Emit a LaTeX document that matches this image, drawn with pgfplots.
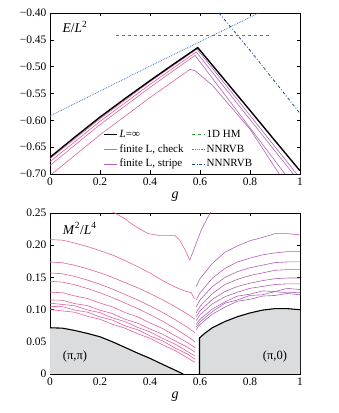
\documentclass[border=0pt]{standalone}
\usepackage{fontspec}
\setmainfont{Liberation Serif}
\usepackage{pgfplots}
\pgfplotsset{compat=1.18}
\definecolor{chk}{RGB}{228,96,160}
\definecolor{stp}{RGB}{172,100,180}
\definecolor{hmg}{RGB}{60,150,60}
\definecolor{nnb}{RGB}{70,125,195}
\definecolor{nnnb}{RGB}{30,75,140}
\definecolor{shade}{RGB}{219,220,222}
\pgfplotsset{myax/.style={
  scale only axis, width=250pt, height=161pt,
  xmin=0, xmax=1,
  xtick={0,0.2,0.4,0.6,0.8,1}, xticklabels={0,0.2,0.4,0.6,0.8,1},
  tick align=inside, major tick length=3.5pt,
  axis line style={line width=0.9pt},
  every tick/.style={black, line width=0.6pt},
  tick label style={font=\fontsize{11.5}{13}\selectfont},
  /pgf/number format/assume math mode=true,
  xlabel={\textit{g}},
  xlabel style={font=\fontsize{14}{16}\selectfont, at={(axis description cs:0.5,0)}, anchor=center, yshift=-23pt},
  clip=true,
}}
\begin{document}
\begin{tikzpicture}
\path[use as bounding box] (0,0) rectangle (338pt,413pt);
% ---------------- top panel ----------------
\begin{axis}[myax, at={(50pt,239pt)}, anchor=south west,
  ymin=-0.70, ymax=-0.40,
  ytick={-0.70,-0.65,-0.60,-0.55,-0.50,-0.45,-0.40},
  yticklabels={−0.70,−0.65,−0.60,−0.55,−0.50,−0.45,−0.40},
  legend columns=2,
  legend cell align=left,
  legend style={at={(axis cs:0.214,-0.6135)}, anchor=north west, draw=none, fill=none,
    inner sep=0pt, font=\fontsize{11}{12}\selectfont, row sep=1pt,
    nodes={inner sep=1.6pt, text height=8pt, text depth=2.5pt},
    /tikz/every even column/.append style={column sep=6pt}},
  legend image code/.code={\draw[#1] (0pt,0pt) -- (13pt,0pt);},
]
% finite L, check (left branches)
\addplot[chk, line width=0.6pt, forget plot] coordinates {(0,-0.6715)(0.2,-0.597)(0.4,-0.528)(0.588,-0.467)};
\addplot[chk, line width=0.6pt, forget plot] coordinates {(0,-0.677)(0.2,-0.602)(0.4,-0.533)(0.585,-0.4725)};
\addplot[chk, line width=0.6pt, forget plot] coordinates {(0,-0.684)(0.2,-0.608)(0.4,-0.5386)(0.58,-0.479)};
\addplot[chk, line width=0.6pt, forget plot] coordinates {(0,-0.703)(0.2,-0.627)(0.4,-0.5576)(0.56,-0.505)};
% finite L, stripe (right branches)
\addplot[stp, line width=0.6pt, forget plot] coordinates {(0.588,-0.467)(0.8,-0.5908)(1,-0.7076)};
\addplot[stp, line width=0.6pt, forget plot] coordinates {(0.585,-0.4725)(0.8,-0.5985)(1,-0.7158)};
\addplot[stp, line width=0.6pt, forget plot] coordinates {(0.58,-0.479)(0.8,-0.614)(1,-0.7368)};
\addplot[stp, line width=0.6pt, forget plot] coordinates {(0.56,-0.505)(0.58,-0.5075)(0.65,-0.535)(0.8,-0.6165)(0.917,-0.70)(1,-0.7453)};
% L = infinity
\addplot[black, line width=1.4pt, forget plot] coordinates {(0,-0.669)(0.1,-0.631)(0.2,-0.594)(0.3,-0.5595)(0.4,-0.526)(0.5,-0.4935)(0.591,-0.4644)(0.7,-0.5255)(0.8,-0.5815)(0.9,-0.638)(1,-0.694)};
% 1D HM
\addplot[hmg, line width=0.9pt, dashed, forget plot] coordinates {(0.264,-0.442)(0.883,-0.442)};
% NNRVB
\addplot[nnb, line width=0.8pt, densely dotted, forget plot] coordinates {(0,-0.592)(0.4,-0.499)(0.835,-0.40)};
% NNNRVB
\addplot[nnnb, line width=0.8pt, dash dot, forget plot] coordinates {(0.676,-0.40)(0.8,-0.4695)(1,-0.587)};
% legend
\addlegendimage{black, line width=1.4pt}\addlegendentry{\textit{L}=∞}
\addlegendimage{hmg, line width=0.9pt, dashed}\addlegendentry{1D HM}
\addlegendimage{chk, line width=0.6pt}\addlegendentry{finite L, check}
\addlegendimage{nnb, line width=0.8pt, densely dotted}\addlegendentry{NNRVB}
\addlegendimage{stp, line width=0.6pt}\addlegendentry{finite L, stripe}
\addlegendimage{nnnb, line width=0.8pt, dash dot}\addlegendentry{NNNRVB}
\node[font=\fontsize{13.5}{15}\selectfont] at (axis cs:0.1,-0.426) {\textit{E}/\textit{L}\textsuperscript{2}};
\end{axis}
% ---------------- bottom panel ----------------
\begin{axis}[myax, at={(50pt,39pt)}, anchor=south west,
  ymin=0, ymax=0.25,
  ytick={0,0.05,0.10,0.15,0.20,0.25},
  yticklabels={0,0.05,0.10,0.15,0.20,0.25},
]
% shaded regions
\addplot[fill=shade, draw=none] coordinates {(0,0)(0,0.0718)(0.05,0.0712)(0.1,0.0675)(0.15,0.063)(0.2,0.0578)(0.25,0.050)(0.3,0.0413)(0.35,0.0325)(0.4,0.0243)(0.45,0.015)(0.5,0.006)(0.533,0)} -- cycle;
\addplot[fill=shade, draw=none] coordinates {(0.598,0)(0.598,0.056)(0.62,0.0635)(0.65,0.072)(0.7,0.0815)(0.75,0.089)(0.8,0.0948)(0.85,0.0992)(0.9,0.1015)(0.95,0.1015)(1,0.0998)(1,0)} -- cycle;
\addplot[black, line width=1.1pt] coordinates {(0,0.0718)(0.05,0.0712)(0.1,0.0675)(0.15,0.063)(0.2,0.0578)(0.25,0.050)(0.3,0.0413)(0.35,0.0325)(0.4,0.0243)(0.45,0.015)(0.5,0.006)(0.533,0)};
\addplot[black, line width=1.1pt] coordinates {(0.598,0)(0.598,0.056)(0.62,0.0635)(0.65,0.072)(0.7,0.0815)(0.75,0.089)(0.8,0.0948)(0.85,0.0992)(0.9,0.1015)(0.95,0.1015)(1,0.0998)};
% check lines (pink)
\addplot[chk, line width=0.6pt] coordinates {(0.2,0.262)(0.259,0.25)(0.3,0.241)(0.325,0.2335)(0.36,0.225)(0.392,0.218)(0.432,0.2154)(0.47,0.2152)(0.499,0.2154)(0.519,0.2076)(0.54,0.193)(0.559,0.1767)};
\addplot[chk, line width=0.6pt] coordinates {(0,0.2087)(0.05,0.2078)(0.1,0.2032)(0.15,0.1978)(0.2,0.1915)(0.25,0.1848)(0.3,0.1762)(0.35,0.1668)(0.4,0.1568)(0.45,0.1452)(0.5,0.1352)(0.54,0.1288)(0.565,0.1262)(0.578,0.1165)};
\addplot[chk, line width=0.6pt] coordinates {(0,0.174)(0.05,0.1727)(0.1,0.1687)(0.15,0.1633)(0.2,0.1571)(0.25,0.150)(0.3,0.142)(0.35,0.134)(0.4,0.125)(0.45,0.1153)(0.5,0.1046)(0.55,0.093)(0.58,0.085)};
\addplot[chk, line width=0.6pt] coordinates {(0,0.157)(0.05,0.1556)(0.1,0.1514)(0.15,0.1458)(0.2,0.1393)(0.25,0.1319)(0.3,0.1235)(0.35,0.1151)(0.4,0.1058)(0.45,0.0956)(0.5,0.0845)(0.55,0.0724)(0.58,0.064)};
\addplot[chk, line width=0.6pt] coordinates {(0,0.144)(0.05,0.1426)(0.1,0.1384)(0.15,0.1327)(0.2,0.1261)(0.25,0.1186)(0.3,0.1102)(0.35,0.1017)(0.4,0.0923)(0.45,0.082)(0.5,0.0707)(0.55,0.0585)(0.58,0.050)};
\addplot[chk, line width=0.6pt] coordinates {(0,0.127)(0.05,0.1262)(0.1,0.1212)(0.15,0.1172)(0.2,0.1102)(0.25,0.1042)(0.3,0.0955)(0.35,0.0888)(0.4,0.0792)(0.45,0.0706)(0.5,0.0595)(0.55,0.0489)(0.58,0.041)};
\addplot[chk, line width=0.6pt] coordinates {(0,0.115)(0.05,0.1145)(0.1,0.1092)(0.15,0.1062)(0.2,0.0990)(0.25,0.0938)(0.3,0.0850)(0.35,0.0791)(0.4,0.0698)(0.45,0.0619)(0.5,0.0514)(0.55,0.0416)(0.58,0.034)};
\addplot[chk, line width=0.6pt] coordinates {(0,0.110)(0.05,0.1080)(0.1,0.1058)(0.15,0.0995)(0.2,0.0952)(0.25,0.0872)(0.3,0.0812)(0.35,0.0725)(0.4,0.0655)(0.45,0.0553)(0.5,0.0465)(0.55,0.0350)(0.58,0.028)};
\addplot[chk, line width=0.6pt] coordinates {(0,0.105)(0.05,0.1045)(0.1,0.0992)(0.15,0.0960)(0.2,0.0886)(0.25,0.0836)(0.3,0.0748)(0.35,0.0688)(0.4,0.0592)(0.45,0.0515)(0.5,0.0404)(0.55,0.0308)(0.58,0.023)};
\addplot[chk, line width=0.6pt] coordinates {(0,0.100)(0.05,0.0980)(0.1,0.0958)(0.15,0.0895)(0.2,0.0850)(0.25,0.0772)(0.3,0.0711)(0.35,0.0625)(0.4,0.0555)(0.45,0.0453)(0.5,0.0366)(0.55,0.0250)(0.58,0.018)};
% stripe lines (purple)
\addplot[stp, line width=0.6pt] coordinates {(0.559,0.1767)(0.579,0.197)(0.605,0.2236)(0.632,0.244)(0.66,0.262)};
\addplot[stp, line width=0.6pt] coordinates {(0.585,0.136)(0.6,0.148)(0.65,0.172)(0.7,0.189)(0.75,0.199)(0.8,0.207)(0.85,0.212)(0.9,0.218)(0.95,0.218)(1,0.216)};
\addplot[stp, line width=0.6pt] coordinates {(0.585,0.115)(0.6,0.126)(0.65,0.149)(0.7,0.164)(0.75,0.174)(0.8,0.180)(0.85,0.185)(0.9,0.188)(0.95,0.190)(1,0.190)};
\addplot[stp, line width=0.6pt] coordinates {(0.585,0.104)(0.6,0.115)(0.65,0.136)(0.7,0.150)(0.75,0.159)(0.8,0.165)(0.85,0.169)(0.9,0.173)(0.95,0.174)(1,0.174)};
\addplot[stp, line width=0.6pt] coordinates {(0.585,0.095)(0.6,0.105)(0.65,0.125)(0.7,0.139)(0.75,0.147)(0.8,0.153)(0.85,0.157)(0.9,0.161)(0.95,0.162)(1,0.162)};
\addplot[stp, line width=0.6pt] coordinates {(0.585,0.089)(0.6,0.098)(0.65,0.116)(0.7,0.128)(0.75,0.136)(0.8,0.141)(0.85,0.145)(0.9,0.148)(0.95,0.149)(1,0.149)};
\addplot[stp, line width=0.6pt] coordinates {(0.585,0.083)(0.6,0.092)(0.65,0.109)(0.7,0.120)(0.75,0.127)(0.8,0.133)(0.85,0.136)(0.9,0.139)(0.95,0.140)(1,0.140)};
\addplot[stp, line width=0.6pt] coordinates {(0.585,0.077)(0.6,0.085)(0.65,0.101)(0.7,0.112)(0.75,0.121)(0.8,0.124)(0.85,0.129)(0.9,0.128)(0.95,0.133)(1,0.131)};
\addplot[stp, line width=0.6pt] coordinates {(0.585,0.073)(0.6,0.081)(0.65,0.097)(0.7,0.110)(0.75,0.115)(0.8,0.122)(0.85,0.123)(0.9,0.128)(0.95,0.126)(1,0.127)};
\addplot[stp, line width=0.6pt] coordinates {(0.585,0.069)(0.6,0.077)(0.65,0.093)(0.7,0.104)(0.75,0.113)(0.8,0.116)(0.85,0.121)(0.9,0.122)(0.95,0.125)(1,0.123)};
\node[font=\fontsize{13.5}{15}\selectfont] at (axis cs:0.119,0.226) {\textit{M}\textsuperscript{2}/\textit{L}\textsuperscript{4}};
\node[font=\fontsize{12.5}{14}\selectfont] at (axis cs:0.1,0.027) {(π,π)};
\node[font=\fontsize{12.5}{14}\selectfont] at (axis cs:0.9,0.027) {(π,0)};
\end{axis}
\end{tikzpicture}
\end{document}
